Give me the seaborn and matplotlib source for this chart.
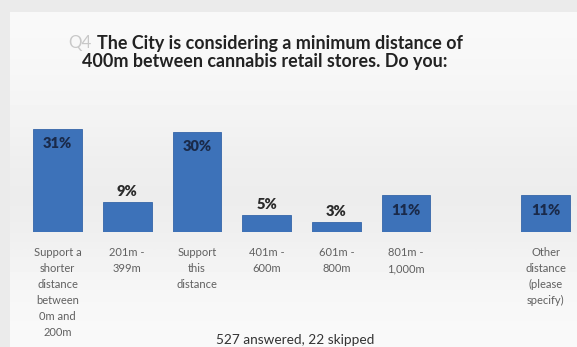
import numpy as np
import pandas as pd
import matplotlib
matplotlib.use("Agg")
import matplotlib.pyplot as plt
import seaborn as sns

categories = ["Support a\nshorter\ndistance\nbetween\n0m and\n200m", "201m -\n399m",
              "Support\nthis\ndistance", "401m -\n600m", "601m -\n800m",
              "801m -\n1,000m", " ", "Other\ndistance\n(please\nspecify)"]
bar_categories = ["Support a\nshorter\ndistance\nbetween\n0m and\n200m", "201m -\n399m",
                  "Support\nthis\ndistance", "401m -\n600m", "601m -\n800m",
                  "801m -\n1,000m", "Other\ndistance\n(please\nspecify)"]
values = [31, 9, 30, 5, 3, 11, 11]
value_labels = ["31%", "9%", "30%", "5%", "3%", "11%", "11%"]
title_prefix = "Q4"
title_line1 = "The City is considering a minimum distance of"
title_line2 = "400m between cannabis retail stores. Do you:"
footer = "527 answered, 22 skipped"

sns.set_style("white")
plt.rcParams['font.family'] = ['Lato', 'DejaVu Sans']

W, H = 577, 347
fig = plt.figure(figsize=(W / 100, H / 100), dpi=100)
fig.patch.set_facecolor('#ebebeb')

# panel background with gradient
bg = fig.add_axes([10 / W, 0, 1 - 10 / W, 1 - 12 / H])
grad = np.array([0.975, 0.965, 0.955, 0.935, 0.925, 0.94, 0.965, 0.975])[:, None]
bg.imshow(grad, aspect='auto', cmap='gray', vmin=0, vmax=1, extent=[0, 1, 0, 1],
          interpolation='bicubic')
bg.set_axis_off()

# main axes: baseline at y=232px, 1% = 3.32 px
left_px, right_px = 20, 577
base_px, top_px = 232, 120
ax = fig.add_axes([left_px / W, (H - base_px) / H, (right_px - left_px) / W,
                   (base_px - top_px) / H])
ax.patch.set_alpha(0)

df = pd.DataFrame({"cat": bar_categories, "val": values})
sns.barplot(data=df, x="cat", y="val", order=categories, color="#3d72b9",
            saturation=1, width=0.70, ax=ax, edgecolor="#3565a8", linewidth=0.6)

ppu = 488 / 7.0
ax.set_xlim(-(57.5 - left_px) / ppu, 7 + (right_px - 545.5) / ppu)
ax.set_ylim(0, (base_px - top_px) / 3.32)
for s in ax.spines.values():
    s.set_visible(False)
ax.set_yticks([])
ax.set_xlabel("")
ax.set_ylabel("")
ax.tick_params(axis='x', length=0, pad=11)
ax.set_xticks(range(len(categories)))
ax.set_xticklabels(categories, fontsize=8.0, color="#606060", linespacing=1.54,
                   va='top')

patches = [p for p in ax.patches if np.isfinite(p.get_height()) and p.get_height() > 0]
for p, v, lab in zip(patches, values, value_labels):
    x = p.get_x() + p.get_width() / 2
    h = p.get_height()
    if v >= 10:
        ax.annotate(lab, (x, h), xytext=(0, -10.5), textcoords='offset points',
                    ha='center', va='center', fontsize=10.5, fontweight='heavy',
                    color='#1a2a4a')
    else:
        ax.annotate(lab, (x, h), xytext=(0, 7.5), textcoords='offset points',
                    ha='center', va='center', fontsize=10.5, fontweight='heavy',
                    color='#2a2a2a')

# title
fs = 10.5
t1 = fig.text(280 / W, 1 - 43 / H, title_line1, ha='center', va='center',
              fontsize=fs, color='#222222', fontweight='bold')
fig.canvas.draw()
bb = t1.get_window_extent()
fs = fs * 366.0 / bb.width
t1.set_fontsize(fs)
fig.text(265 / W, 1 - 62 / H, title_line2, ha='center', va='center',
         fontsize=fs, color='#222222', fontweight='bold')
fig.canvas.draw()
bb = t1.get_window_extent()
fig.text((bb.x0 - 5) / W, 1 - 43 / H, title_prefix, ha='right', va='center',
         fontsize=fs * 0.95, color='#c8c8c8')

fig.text(295 / W, 1 - 340 / H, footer, ha='center', va='center', fontsize=9.8,
         color='#333333')

fig.savefig("out.png", dpi=100, facecolor=fig.get_facecolor())
